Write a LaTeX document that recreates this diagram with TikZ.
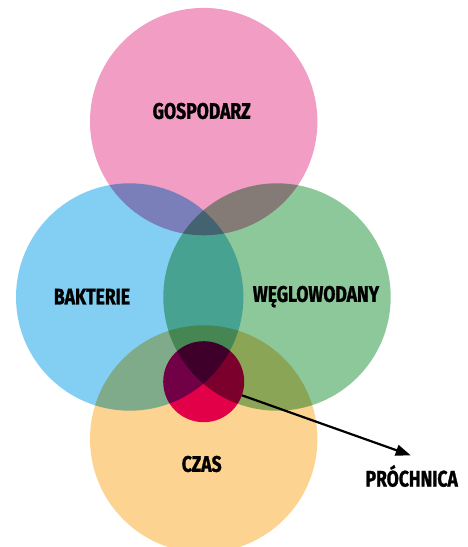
\documentclass[tikz,border=0pt]{standalone}
\usepackage{fontspec}
\newfontfamily\lblfont{Fira Sans}[FakeStretch=0.78, BoldFeatures={FakeBold=1.2}]
\usetikzlibrary{arrows.meta}
\definecolor{hostpink}{RGB}{241,157,196}
\definecolor{bactblue}{RGB}{130,207,243}
\definecolor{carbgreen}{RGB}{141,200,154}
\definecolor{timeorange}{RGB}{253,211,145}
\definecolor{cariesred}{RGB}{228,0,130}

\begin{document}
\begin{tikzpicture}[x=1pt, y=-1pt,
    set/.style={circle, fill=#1, minimum size=227.4pt, inner sep=0pt},
    core/.style={circle, fill=cariesred, minimum size=81pt, inner sep=0pt},
    lbl/.style={font=\lblfont\bfseries\fontsize{22.5}{22.5}\selectfont, text=black, inner sep=0pt},
    arr/.style={-{Triangle[length=15pt, width=11pt]}, line width=2.2pt, black}
]
\useasboundingbox (0,0) rectangle (468,547);
\begin{scope}[blend group=multiply]
\node[set=hostpink] (host) at (203.7,121.6) {};
\node[set=bactblue] (bact) at (129.7,297) {};
\node[set=carbgreen] (carb) at (277,297) {};
\node[set=timeorange] (time) at (203.7,439) {};
\node[core] (caries) at (203.7,381.7) {};
\end{scope}

\node[lbl] (hostlbl) at (201.7,111) {GOSPODARZ};
\node[lbl] (bactlbl) at (92,296.6) {BAKTERIE};
\node[lbl] (carblbl) at (316,296.6) {WĘGLOWODANY};
\node[lbl] (timelbl) at (201.7,464) {CZAS};
\node[lbl] (carieslbl) at (411.7,476) {PRÓCHNICA};
\coordinate (tip) at (410.7,455.3);

\draw[arr] (caries) -- (tip);
\end{tikzpicture}
\end{document}
